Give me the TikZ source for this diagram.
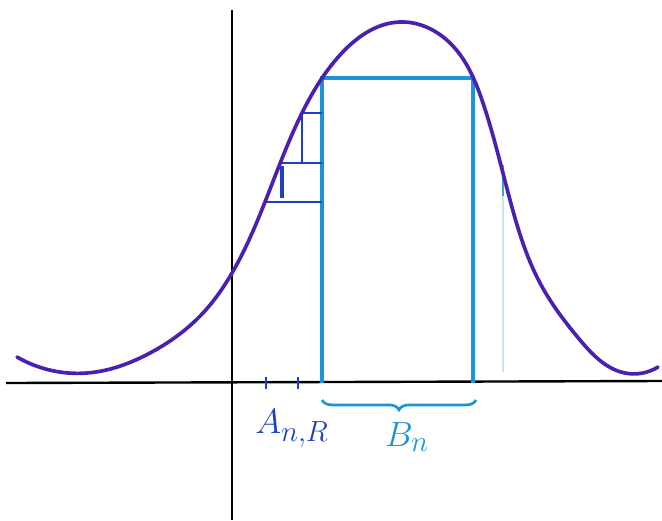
\documentclass[tikz,border=0pt]{standalone}
\usepackage{xcolor}
\usepackage{amsmath,amssymb}
\usetikzlibrary{calc,positioning,decorations.pathreplacing,hobby}

\definecolor{curvepurple}{HTML}{4B1FB0}
\definecolor{rectblue}{HTML}{1A95D2}
\definecolor{stepblue}{HTML}{1E3FC0}

\begin{document}
\begin{tikzpicture}[x=0.025cm, y=-0.025cm, font=\Huge,
  axis/.style={draw=black, line width=1.7pt},
  bell/.style={draw=curvepurple, line width=2.6pt, line cap=round},
  bigrect/.style={draw=rectblue, line width=2.2pt},
  stepline/.style={draw=stepblue, line width=2pt},
  tickmark/.style={draw=stepblue, line width=1.6pt}]
\useasboundingbox (0,0) rectangle (662,520);
% axes
\coordinate (xl) at (6,383);
\coordinate (xr) at (662,381);
\coordinate (yt) at (232,10);
\coordinate (yb) at (232,520);
\draw[axis] (xl) -- (xr);
\draw[axis] (yt) -- (yb);
% faint erased line
\draw[rectblue, line width=1.2pt, opacity=0.25] (503,168) -- (503,372);
\draw[rectblue, line width=1.8pt, opacity=0.8] (503,165) -- (503,196);
% big rectangle under the curve
\coordinate (r1) at (322,383);
\coordinate (r2) at (322,78);
\coordinate (r3) at (473,78);
\coordinate (r4) at (473,383);
\draw[bigrect] (r1) -- (r2) -- (r3) -- (r4);
% small steps
\draw[stepline] (302,113) -- (322,113);
\draw[stepline] (302,113) -- (302,163);
\draw[stepline] (282,163) -- (322,163);
\draw[stepblue, line width=3.4pt] (282,166) -- (282,198);
\draw[stepline] (265,202) -- (322,202);
% the curve
\draw[bell, use Hobby shortcut] (17,357) .. (87,373) .. (150,353)
  .. (203,313) .. (232,273) .. (265,202) .. (302,113) .. (340,55)
  .. (400,22) .. (450,43) .. (483,103) .. (510,200) .. (540,283)
  .. (580,340) .. (625,373) .. (658,367);
% ticks
\draw[tickmark] (266,377) -- (266,389);
\draw[tickmark] (298,377) -- (298,389);
% brace and labels
\coordinate (bl) at (322,400);
\coordinate (br) at (476,400);
\draw[rectblue, line width=1.9pt, decorate,
  decoration={brace, mirror, amplitude=7pt}] (bl) -- (br);
\node[stepblue] (alab) at (292,428) {$A_{n,R}$};
\node[rectblue] (blab) at (407,437) {$B_n$};
\end{tikzpicture}
\end{document}
